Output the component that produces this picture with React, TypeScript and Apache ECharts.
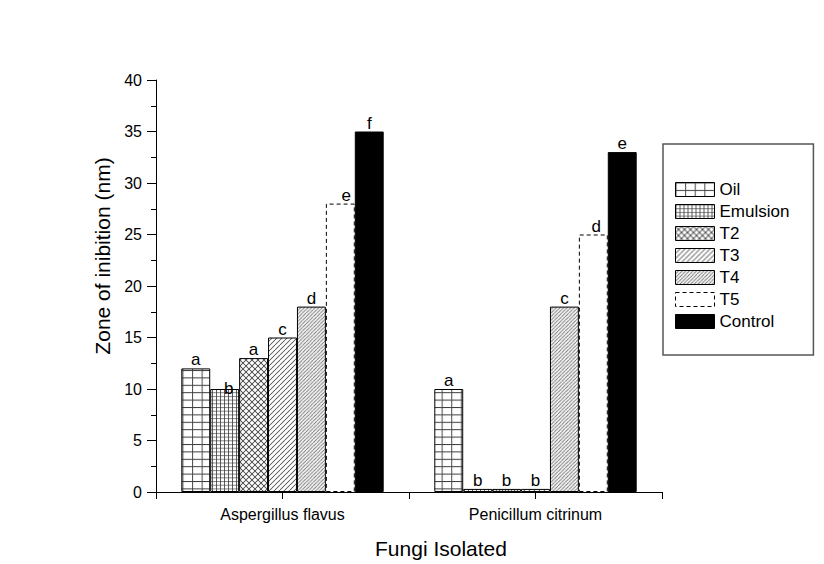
import React, { useEffect, useRef } from "react";
import * as echarts from "echarts";

const categories = ["Aspergillus flavus", "Penicillum citrinum"];
const treatments = ["Oil", "Emulsion", "T2", "T3", "T4", "T5", "Control"];

const oilValues = [12, 10];
const emulsionValues = [10, 0.3];
const t2Values = [13, 0.3];
const t3Values = [15, 0.3];
const t4Values = [18, 18];
const t5Values = [28, 25];
const controlValues = [35, 33];

const oilLetters = ["a", "a"];
const emulsionLetters = ["b", "b"];
const t2Letters = ["a", "b"];
const t3Letters = ["c", "b"];
const t4Letters = ["d", "c"];
const t5Letters = ["e", "d"];
const controlLetters = ["f", "e"];

const yTicks = { min: 0, max: 40, interval: 5 };

const FONT = "'Liberation Sans', Arial, Helvetica, sans-serif";

type Drawer = (ctx: CanvasRenderingContext2D, w: number, h: number) => void;

function makePattern(w: number, h: number, draw: Drawer) {
  const scale = 4;
  const c = document.createElement("canvas");
  c.width = Math.round(w * scale);
  c.height = Math.round(h * scale);
  const ctx = c.getContext("2d")!;
  ctx.fillStyle = "#ffffff";
  ctx.fillRect(0, 0, c.width, c.height);
  ctx.scale(c.width / w, c.height / h);
  draw(ctx, w, h);
  return {
    image: c.toDataURL(),
    repeat: "repeat",
    imageWidth: w,
    imageHeight: h,
  };
}

function gridPattern(w: number, h: number, lw: number, color: string) {
  return makePattern(w, h, (ctx) => {
    ctx.strokeStyle = color;
    ctx.lineWidth = lw;
    ctx.beginPath();
    ctx.moveTo(lw / 2, 0);
    ctx.lineTo(lw / 2, h);
    ctx.moveTo(0, lw / 2);
    ctx.lineTo(w, lw / 2);
    ctx.stroke();
  });
}

function diagPattern(p: number, lw: number, color: string, cross: boolean) {
  return makePattern(p, p, (ctx) => {
    ctx.strokeStyle = color;
    ctx.lineWidth = lw;
    ctx.beginPath();
    for (let k = -1; k <= 1; k++) {
      ctx.moveTo(k * p, p);
      ctx.lineTo(k * p + p, 0);
      if (cross) {
        ctx.moveTo(k * p, 0);
        ctx.lineTo(k * p + p, p);
      }
    }
    ctx.stroke();
  });
}

const defaultLabelOffset: [number, number] = [0, 2];
const labelOffsets: Record<string, Record<number, [number, number]>> = {
  Emulsion: { 0: [4, 10] },
  T5: { 0: [6, 2], 1: [3, 2] },
};

export default function App() {
  const ref = useRef<HTMLDivElement>(null);

  useEffect(() => {
    if (!ref.current) return;
    const chart = echarts.init(ref.current, undefined, { renderer: "svg" });

    const fills: Record<string, any> = {
      Oil: gridPattern(9.6, 7.4, 1, "#222"),
      Emulsion: gridPattern(4, 3.7, 0.8, "#333"),
      T2: diagPattern(6, 0.8, "#333", true),
      T3: diagPattern(5, 0.8, "#444", false),
      T4: diagPattern(3.6, 0.7, "#444", false),
      T5: "#ffffff",
      Control: "#000000",
    };

    const valueSets: Record<string, number[]> = {
      Oil: oilValues,
      Emulsion: emulsionValues,
      T2: t2Values,
      T3: t3Values,
      T4: t4Values,
      T5: t5Values,
      Control: controlValues,
    };
    const letterSets: Record<string, string[]> = {
      Oil: oilLetters,
      Emulsion: emulsionLetters,
      T2: t2Letters,
      T3: t3Letters,
      T4: t4Letters,
      T5: t5Letters,
      Control: controlLetters,
    };

    const itemStyleFor = (name: string) => ({
      color: fills[name],
      borderColor: "#000",
      borderWidth: 1,
      borderType: name === "T5" ? [4, 3] : "solid",
    });

    const series = treatments.map((name) => ({
      name,
      type: "bar",
      xAxisIndex: 0,
      barGap: "0%",
      barCategoryGap: "20%",
      itemStyle: itemStyleFor(name),
      emphasis: { disabled: true },
      data: valueSets[name].map((v, i) => {
        const off = labelOffsets[name] && labelOffsets[name][i];
        return {
          value: v,
          label: {
            show: true,
            position: "top",
            distance: 2,
            formatter: letterSets[name][i],
            color: "#000",
            fontSize: 17,
            fontFamily: FONT,
            offset: off || defaultLabelOffset,
          },
        };
      }),
    }));

    chart.setOption({
      animation: false,
      backgroundColor: "#ffffff",
      textStyle: { fontFamily: FONT, color: "#000" },
      grid: { left: 156, right: 162, top: 80, bottom: 67, containLabel: false },
      legend: {
        orient: "vertical",
        left: 663,
        top: 144,
        padding: [37, 24, 25, 12],
        itemWidth: 39,
        itemHeight: 14,
        itemGap: 5,
        icon: "rect",
        borderColor: "#555",
        borderWidth: 1.5,
        selectedMode: false,
        textStyle: { fontSize: 17, fontFamily: FONT, color: "#000" },
        data: treatments.map((name) => ({
          name,
          itemStyle: {
            color: fills[name],
            borderColor: "#000",
            borderWidth: 1,
            borderType: name === "T5" ? [4, 3] : "solid",
          },
        })),
      },
      xAxis: [
        {
          type: "category",
          data: categories,
          position: "bottom",
          axisLine: { show: true, lineStyle: { color: "#000", width: 1 } },
          axisTick: { show: true, alignWithLabel: false, length: 7, lineStyle: { color: "#000" } },
          axisLabel: { color: "#000", fontSize: 16, fontFamily: FONT, margin: 14 },
          name: "Fungi Isolated",
          nameLocation: "middle",
          nameGap: 46,
          nameTextStyle: { fontSize: 21, fontFamily: FONT, color: "#000", padding: [0, 0, 0, 64] },
          splitLine: { show: false },
        },
        {
          type: "category",
          data: categories,
          position: "bottom",
          axisLine: { show: false },
          axisTick: { show: true, alignWithLabel: true, length: 7, lineStyle: { color: "#000" } },
          axisLabel: { show: false },
          splitLine: { show: false },
        },
      ],
      yAxis: {
        type: "value",
        min: yTicks.min,
        max: yTicks.max,
        interval: yTicks.interval,
        axisLine: { show: true, lineStyle: { color: "#000", width: 1 } },
        axisTick: { show: true, length: 9, lineStyle: { color: "#000" } },
        minorTick: { show: true, splitNumber: 2, length: 5, lineStyle: { color: "#000" } },
        axisLabel: { color: "#000", fontSize: 16, fontFamily: FONT, margin: 14 },
        splitLine: { show: false },
        name: "Zone of inibition (nm)",
        nameLocation: "middle",
        nameGap: 42,
        nameTextStyle: { fontSize: 21, fontFamily: FONT, color: "#000", padding: [0, 0, 0, 60] },
      },
      series,
    });

    return () => chart.dispose();
  }, []);

  return <div ref={ref} style={{ width: 824, height: 564, position: "absolute", left: 0, top: 0 }} />;
}
